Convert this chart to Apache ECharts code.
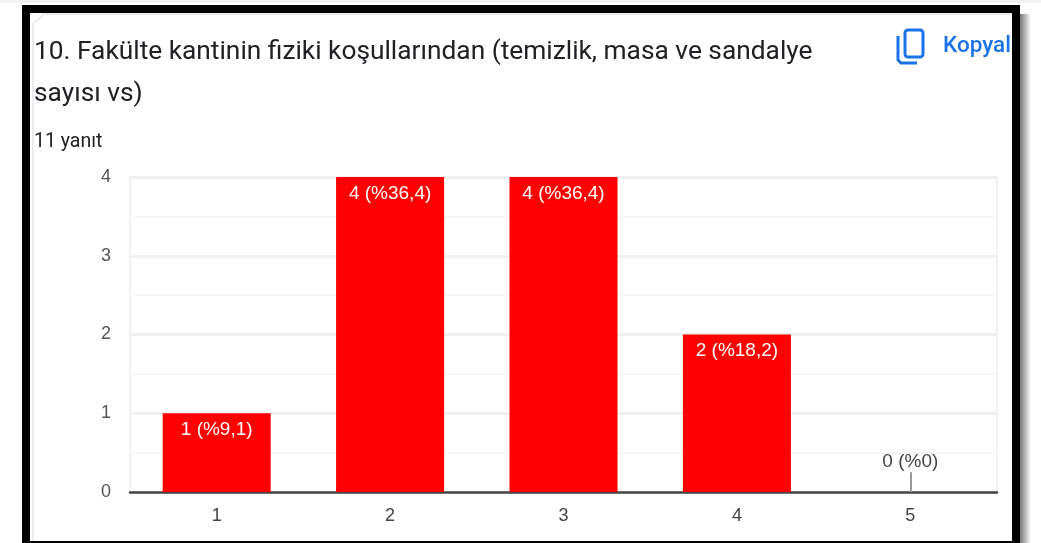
<!DOCTYPE html>
<html><head><meta charset="utf-8">
<style>html,body{margin:0;padding:0;background:#fff}#c{width:1041px;height:543px}</style>
<script src="https://cdn.jsdelivr.net/npm/echarts@6/dist/echarts.min.js"></script>
</head><body><div id="c"></div>
<script>
const categories = ['1','2','3','4','5'];
const values = [1,4,4,2,0];
const percents = ['9,1','36,4','36,4','18,2','0'];
const yTicks = [0,1,2,3,4];
const titleText = '10. Fakülte kantinin fiziki koşullarından (temizlik, masa ve sandalye\nsayısı vs)';
const countText = '11 yanıt';
const copyText = 'Kopyala';
const leaderHeight = 0.25;

const font = 'Roboto';
const label = i => `${values[i]} (%${percents[i]})`;
const chart = echarts.init(document.getElementById('c'), null, {renderer:'canvas'});
const zeroLeaders = values.map((v,i)=>v===0 ? [
  {xAxis:categories[i], yAxis:0},
  {xAxis:categories[i], yAxis:leaderHeight, label:{formatter:label(i)}}
] : null).filter(Boolean);

chart.setOption({
  animation:false,
  backgroundColor:'#fff',
  grid:{show:true,borderColor:'#f2f2f2',borderWidth:2,left:130,right:44,top:177,bottom:51,containLabel:false},
  xAxis:{type:'category',data:categories,
    axisLine:{onZero:true,lineStyle:{color:'#444',width:2.5}},
    axisTick:{show:false},
    axisLabel:{color:'#444',fontFamily:'Liberation Sans',fontSize:18,margin:15},
    splitLine:{show:false}},
  yAxis:{type:'value',min:0,max:yTicks[yTicks.length-1],interval:1,
    axisLine:{show:false},
    axisTick:{show:false},
    axisLabel:{color:'#555',fontFamily:'Liberation Sans',fontSize:18,margin:19},
    splitLine:{show:true,lineStyle:{color:'#f0f0f0',width:3}},
    minorTick:{show:false,splitNumber:2},
    minorSplitLine:{show:true,lineStyle:{color:'#f6f6f6',width:2}}},
  series:[{
    type:'bar',data:values,barWidth:'62.3%',
    itemStyle:{color:'#ff0000'},
    label:{show:true,position:'insideTop',distance:7,color:'#fff',
      fontFamily:'Liberation Sans',fontSize:19,
      formatter:p=>p.value>0?label(p.dataIndex):''},
    markLine:{silent:true,symbol:'none',
      lineStyle:{color:'#999',width:2,type:'solid'},
      label:{show:true,position:'end',distance:1,color:'#444',fontFamily:'Liberation Sans',fontSize:19},
      data:zeroLeaders}
  }],
  graphic:[
    {type:'rect',z:1,shape:{x:-10,y:0,width:1061,height:3},style:{fill:'#f1f1f1'}},
    {type:'text',z:10,left:34,top:31,style:{text:titleText,font:`26.3px ${font}`,fill:'#202124',lineHeight:42}},
    {type:'text',z:10,left:34,top:132,style:{text:countText,font:`19.5px ${font}`,fill:'#202124'}},
    {type:'text',z:10,left:943,top:35,style:{text:copyText,font:`500 22.5px ${font}`,fill:'#1a73e8'}},
    {type:'rect',z:10,shape:{x:905,y:30,width:18,height:27,r:3},style:{fill:'none',stroke:'#1a73e8',lineWidth:3}},
    {type:'polyline',z:10,shape:{points:[[898,36],[898,60],[901,63],[917,63]]},style:{fill:'none',stroke:'#1a73e8',lineWidth:3}},
    {type:'rect',z:11,shape:{x:1020,y:14,width:11,height:529},style:{fill:new echarts.graphic.LinearGradient(0,0,1,0,[{offset:0,color:'#777'},{offset:1,color:'#fff'}])}},
    {type:'rect',z:12,shape:{x:1012,y:5,width:8,height:538},style:{fill:'#000'}},
    {type:'rect',z:12,shape:{x:22,y:5,width:8,height:538},style:{fill:'#000'}},
    {type:'rect',z:12,shape:{x:22,y:5,width:998,height:8},style:{fill:'#000'}},
    {type:'rect',z:12,shape:{x:22,y:541,width:998,height:2},style:{fill:'#000'}},
    {type:'polyline',z:12,shape:{points:[[33,541],[33,24],[44,14],[1012,14]]},style:{fill:'none',stroke:'#e4e6ea',lineWidth:1.5}}
  ]
});
</script></body></html>
